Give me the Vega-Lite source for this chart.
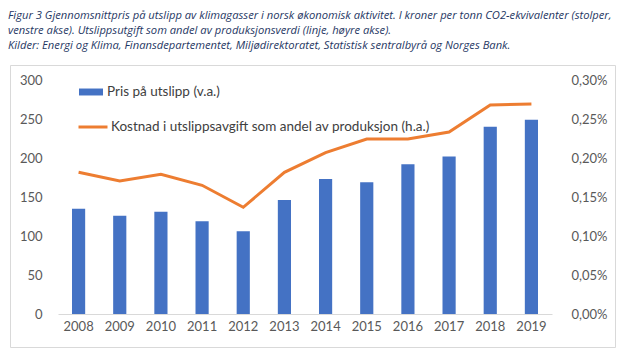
{
  "$schema": "https://vega.github.io/schema/vega-lite/v6.json",
  "autosize": "none",
  "width": 605,
  "height": 282,
  "padding": {"left": 10, "top": 65, "right": 11, "bottom": 11},
  "background": "white",
  "title": {
    "text": [
      "Figur 3 Gjennomsnittpris på utslipp av klimagasser i norsk økonomisk aktivitet. I kroner per tonn CO2-ekvivalenter (stolper,",
      "venstre akse). Utslippsutgift som andel av produksjonsverdi (linje, høyre akse).",
      "Kilder: Energi og Klima, Finansdepartementet, Miljødirektoratet, Statistisk sentralbyrå og Norges Bank."
    ],
    "anchor": "start",
    "frame": "group",
    "dx": -2,
    "offset": 14,
    "font": "Open Sans",
    "fontStyle": "italic",
    "fontWeight": "normal",
    "fontSize": 11.2,
    "lineHeight": 15,
    "limit": 0,
    "color": "#1f3864"
  },
  "data": {
    "values": [
      {"year": "2008", "pris": 135, "andel": 0.001817},
      {"year": "2009", "pris": 126, "andel": 0.001705},
      {"year": "2010", "pris": 131, "andel": 0.00179},
      {"year": "2011", "pris": 119, "andel": 0.00165},
      {"year": "2012", "pris": 106, "andel": 0.001368},
      {"year": "2013", "pris": 146, "andel": 0.001817},
      {"year": "2014", "pris": 173, "andel": 0.00207},
      {"year": "2015", "pris": 169, "andel": 0.002244},
      {"year": "2016", "pris": 192, "andel": 0.002244},
      {"year": "2017", "pris": 202, "andel": 0.002333},
      {"year": "2018", "pris": 240, "andel": 0.00268},
      {"year": "2019", "pris": 249, "andel": 0.002692}
    ]
  },
  "encoding": {
    "x": {
      "field": "year",
      "type": "ordinal",
      "scale": {"range": [48, 542], "paddingInner": 0.68, "paddingOuter": 0.34},
      "axis": {
        "title": null,
        "labelAngle": 0,
        "offset": -33,
        "domainColor": "#d9d9d9",
        "ticks": false,
        "labelPadding": 6,
        "labelFontSize": 13,
        "labelFont": "Lato",
        "labelColor": "#595959"
      }
    }
  },
  "layer": [
    {
      "mark": {"type": "bar", "color": "#4472c4"},
      "encoding": {
        "y": {
          "field": "pris",
          "type": "quantitative",
          "scale": {"domain": [0, 300], "range": [249, 15], "nice": false},
          "axis": {
            "title": null,
            "values": [0, 50, 100, 150, 200, 250, 300],
            "domain": false,
            "ticks": false,
            "grid": false,
            "offset": -34,
            "labelPadding": 2,
            "labelFontSize": 13,
            "labelFont": "Lato",
            "labelColor": "#595959"
          }
        },
        "fill": {
          "datum": "Pris på utslipp (v.a.)",
          "scale": {"range": ["#4472c4"]},
          "legend": {
            "title": null,
            "orient": "none",
            "legendX": 69,
            "legendY": 15,
            "padding": 0,
            "symbolType": "M-1,-0.29H1V0.29H-1Z",
            "symbolSize": 576,
            "symbolStrokeWidth": 0,
            "labelOffset": 4,
            "labelLimit": 0,
            "labelFontSize": 13.5,
            "labelFont": "Lato",
            "labelColor": "#404040"
          }
        }
      }
    },
    {
      "mark": {"type": "line", "color": "#ed7d31", "strokeWidth": 3},
      "encoding": {
        "y": {
          "field": "andel",
          "type": "quantitative",
          "scale": {"domain": [0, 0.003], "range": [249, 15], "nice": false},
          "axis": {
            "title": null,
            "orient": "right",
            "values": [0, 0.0005, 0.001, 0.0015, 0.002, 0.0025, 0.003],
            "labelExpr": "replace(format(datum.value, '.2%'), '.', ',')",
            "domain": false,
            "ticks": false,
            "grid": false,
            "offset": -46,
            "labelPadding": 2,
            "labelFontSize": 13,
            "labelFont": "Lato",
            "labelColor": "#595959"
          }
        },
        "stroke": {
          "datum": "Kostnad i utslippsavgift som andel av produksjon (h.a.)",
          "scale": {"range": ["#ed7d31"]},
          "legend": {
            "title": null,
            "orient": "none",
            "legendX": 67,
            "legendY": 46,
            "padding": 0,
            "symbolType": "stroke",
            "symbolSize": 841,
            "symbolStrokeWidth": 3,
            "labelOffset": 2,
            "labelLimit": 0,
            "labelFontSize": 13.5,
            "labelFont": "Lato",
            "labelColor": "#404040"
          }
        }
      }
    }
  ],
  "resolve": {"scale": {"y": "independent"}},
  "config": {
    "view": {"stroke": "#d9d9d9", "strokeWidth": 1}
  }
}
